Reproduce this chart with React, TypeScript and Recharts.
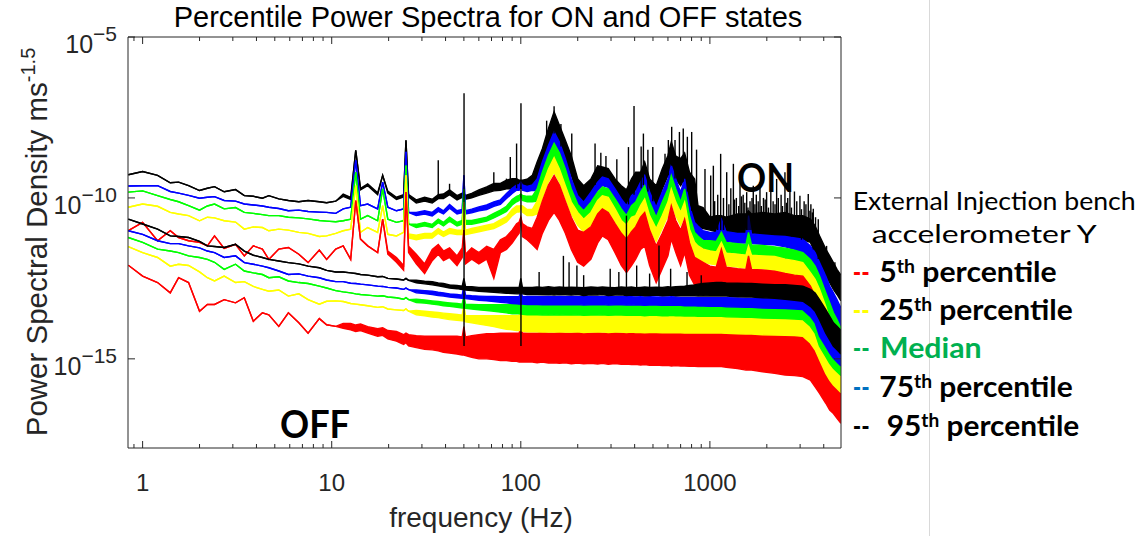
import React from 'react';
import { ComposedChart, Area, Bar, XAxis, YAxis } from 'recharts';

type V = number | [number, number];

// Frequency grid (Hz)
const FREQ: number[] = [
  0.84, 1.0, 1.2, 1.4, 1.55, 1.75, 2.0, 2.2, 2.4, 2.7, 3.1, 3.45, 3.85, 4.3, 4.65, 5.25, 5.9, 6.7, 7.5, 8.6, 9.4, 10.5,
  11.5, 12.6, 13.4, 14.2, 15.5, 17.5, 18.6, 19.8, 22, 24, 24.7, 25.5, 28, 31, 34, 36.6, 39, 42, 46, 49, 50, 51, 55, 60, 66, 72, 78, 84, 90, 95, 98, 100, 102, 108, 115,
  122, 130, 140, 150, 160, 172, 185, 200, 215, 235, 255, 270, 290, 315, 340, 362, 385, 405, 430, 452, 480, 520, 560, 600, 625, 660, 700, 735, 780, 830, 865, 920, 1000, 1080,
  1150, 1220, 1400, 1550, 1600, 1660, 1900, 2200, 2500, 2800, 3100, 3400, 3600, 3800, 4100, 4300, 4500, 4700, 4930,
];

// log10 PSD; a single number = thin line, [low, high] = envelope of the dense trace
const ON_P95: V[] = [
  -9.28, -9.18, -9.3, -9.53, -9.51, -9.62, -9.77, -9.7, -9.65, -9.81, -9.74, -9.93, -9.95, -10.01, -9.93, -10.03, -10.08, -10.12, -10.08, -10.12, -10.15, -10.1,
  [-9.95, -9.88], [-10.05, -9.98], -8.52, [-9.75, -9.7], [-9.62, -9.56], [-9.9, -9.84], -9.3, [-9.85, -9.79], [-10.05, -9.98], [-9.97, -9.9], -8.21, [-9.97, -9.9],
  [-10.16, -10.06], [-10.1, -9.98], [-10.16, -10.04], [-10.02, -9.9], [-10.02, -9.88], [-9.9, -9.75], [-10.06, -9.93], [-9.98, -9.85], [-9.98, -9.85], [-10.04, -9.92],
  [-10.0, -9.86], [-9.92, -9.75], [-9.85, -9.66], [-9.78, -9.55], [-9.76, -9.55], [-9.72, -9.45], [-9.72, -9.4], [-9.7, -9.4], [-9.7, -9.45], [-9.7, -9.45], [-9.7, -9.45],
  [-9.72, -9.42], [-9.62, -9.3],
  [-9.41, -8.88], [-9.09, -8.47], [-8.57, -7.84], [-8.0, -7.32], [-8.37, -7.74], [-8.78, -8.21], [-9.3, -8.7], [-9.93, -9.41], [-10.19, -9.62], [-9.93, -9.41],
  [-9.51, -9.0], [-9.41, -9.04], [-9.51, -9.09], [-9.88, -9.41], [-10.24, -9.62], [-10.34, -9.75], [-10.13, -9.41], [-9.72, -9.2], [-9.82, -9.2], [-9.51, -8.88],
  [-10.03, -9.41], [-10.29, -9.62], [-9.72, -9.09], [-9.3, -8.68], [-8.99, -8.26], [-9.41, -8.7], [-9.62, -8.78], [-9.41, -8.6], [-10.24, -9.2], [-10.76, -9.41],
  [-10.9, -10.24], [-10.95, -10.3], [-11.0, -10.6], [-11.05, -10.55],
  [-11.07, -10.55], [-11.07, -10.6], [-11.1, -10.5], [-11.1, -10.5], [-11.0, -10.4], [-11.1, -10.5], [-11.15, -10.45], [-11.2, -10.5], [-11.2, -10.45], [-11.25, -10.55],
  [-11.3, -10.55], [-11.38, -10.66], [-11.7, -10.87], [-12.01, -11.18], [-12.43, -11.59], [-12.63, -11.8], [-12.84, -12.01], [-13.0, -12.22], [-13.2, -12.4],
];

const ON_P75: V[] = [
  -9.63, -9.62, -9.62, -9.8, -9.85, -9.92, -10.01, -9.98, -9.96, -10.08, -10.1, -10.19, -10.22, -10.25, -10.29, -10.33, -10.4, -10.38, -10.42, -10.44, -10.45, -10.48,
  -10.34, -10.29, -8.83, -10.24, -10.19, -10.34, -9.51, -10.29, -10.4, -10.34, -8.57, -10.45,
  [-10.55, -10.45], [-10.5, -10.4], [-10.56, -10.45], [-10.42, -10.3], [-10.5, -10.4], [-10.32, -10.2], [-10.5, -10.4], [-10.46, -10.36], -9.3, [-10.5, -10.4],
  [-10.46, -10.35], [-10.4, -10.28], [-10.36, -10.22], [-10.26, -10.12], [-10.2, -10.06], [-10.02, -9.86], [-9.86, -9.7], [-9.76, -9.6], [-9.76, -9.6], -9.51, [-9.76, -9.6],
  [-9.8, -9.64], [-9.76, -9.6],
  [-9.77, -9.41], [-9.3, -8.88], [-8.78, -8.37], [-8.37, -7.95], [-8.78, -8.26], [-9.3, -8.78], [-9.82, -9.41], [-10.19, -9.93], [-10.4, -10.13], [-10.13, -9.82],
  [-9.77, -9.51], [-9.62, -9.35], [-9.67, -9.41], [-10.03, -9.72], [-10.4, -10.03], [-10.55, -10.24], [-10.34, -9.93], [-10.24, -9.82], [-9.93, -9.51], [-9.72, -9.3],
  [-10.24, -9.82], [-10.66, -10.29], [-10.24, -9.82], [-9.82, -9.41], [-9.41, -8.99], [-9.82, -9.41], [-10.13, -9.82], [-9.82, -9.41], [-10.66, -10.24], [-11.07, -10.76],
  [-11.18, -10.87], [-11.28, -11.02], [-11.33, -11.07], [-11.38, -11.07],
  [-11.3, -10.66], [-11.35, -11.05], [-11.4, -11.1], [-11.4, -11.1], [-11.3, -10.55], [-11.42, -11.12], [-11.44, -11.15], [-11.46, -11.18], [-11.52, -11.2], [-11.6, -11.24],
  [-11.7, -11.28], [-12.0, -11.49], [-12.32, -11.7], [-12.63, -12.01], [-13.16, -12.43], [-13.47, -12.74], [-13.78, -12.95], [-13.99, -13.16], [-14.25, -13.42],
];

const ON_P50: V[] = [
  -9.82, -9.78, -9.93, -10.05, -10.12, -10.24, -10.38, -10.25, -10.19, -10.34, -10.3, -10.45, -10.48, -10.52, -10.55, -10.55, -10.6, -10.62, -10.65, -10.7, -10.72, -10.74,
  -10.71, -10.66, -9.2, -10.66, -10.55, -10.71, -9.72, -10.66, -10.76, -10.71, -8.99, -10.81,
  [-10.92, -10.82], [-10.87, -10.76], [-10.92, -10.82], [-10.77, -10.66], [-10.87, -10.76], [-10.72, -10.6], [-10.87, -10.76], [-10.82, -10.7], -9.72, [-10.82, -10.7],
  [-10.82, -10.7], [-10.77, -10.65], [-10.72, -10.6], [-10.62, -10.48], [-10.52, -10.38], [-10.42, -10.26], [-10.22, -10.05], [-10.12, -9.95], [-10.08, -9.92], -9.88,
  [-10.08, -9.92], [-10.12, -9.95], [-10.12, -9.95],
  [-10.1, -9.72], [-9.62, -9.2], [-9.1, -8.68], [-8.75, -8.3], [-9.1, -8.6], [-9.62, -9.1], [-10.13, -9.72], [-10.45, -10.2], [-10.66, -10.4], [-10.45, -10.13],
  [-10.08, -9.82], [-9.93, -9.66], [-9.98, -9.72], [-10.34, -10.03], [-10.7, -10.34], [-10.85, -10.55], [-10.6, -10.24], [-10.55, -10.13], [-10.24, -9.82], [-10.03, -9.62],
  [-10.55, -10.13], [-10.95, -10.6], [-10.55, -10.13], [-10.13, -9.72], [-9.72, -9.3], [-10.13, -9.72], [-10.45, -10.13], [-10.13, -9.72], [-10.97, -10.55], [-11.38, -11.07],
  [-11.49, -11.18], [-11.59, -11.33], [-11.62, -11.33], [-11.65, -11.35],
  [-11.6, -11.07], [-11.68, -11.38], [-11.72, -11.42], [-11.75, -11.45], [-11.65, -11.07], [-11.76, -11.46], [-11.78, -11.48], [-11.82, -11.52], [-11.9, -11.56], [-12.0, -11.62],
  [-12.12, -11.7], [-12.43, -11.91], [-12.74, -12.12], [-13.05, -12.43], [-13.68, -12.95], [-13.99, -13.26], [-14.3, -13.57], [-14.51, -13.78], [-14.78, -14.05],
];

const ON_P25: V[] = [
  -10.29, -10.19, -10.26, -10.45, -10.5, -10.55, -10.71, -10.6, -10.62, -10.71, -10.75, -10.97, -10.9, -10.92, -11.02, -10.97, -11.0, -11.07, -11.1, -11.2, -11.18, -11.1,
  -11.02, -10.97, -9.62, -11.07, -10.92, -11.07, -10.24, -11.13, -11.18, -11.07, -9.3,
  [-11.24, -11.12], [-11.3, -11.16], [-11.25, -11.1], [-11.25, -11.1], [-11.1, -10.95], [-11.2, -11.06], [-11.1, -10.95], [-11.14, -11.0], [-11.14, -11.0], -10.13,
  [-11.14, -11.0], [-11.1, -10.95], [-11.05, -10.9], [-11.0, -10.85], [-10.95, -10.8], [-10.85, -10.68], [-10.75, -10.58], [-10.55, -10.36], [-10.44, -10.25], [-10.44, -10.25],
  -10.24, [-10.44, -10.25], [-10.55, -10.36], [-10.55, -10.36],
  [-10.5, -10.1], [-10.0, -9.62], [-9.5, -9.1], [-9.2, -8.75], [-9.5, -9.1], [-10.0, -9.62], [-10.5, -10.13], [-10.85, -10.45], [-11.05, -10.66], [-10.85, -10.45],
  [-10.45, -10.08], [-10.34, -9.93], [-10.4, -9.98], [-10.75, -10.34], [-11.1, -10.7], [-11.25, -10.85], [-11.0, -10.6], [-10.95, -10.55], [-10.65, -10.24], [-10.45, -10.03],
  [-10.95, -10.55], [-11.35, -10.95], [-10.95, -10.55], [-10.55, -10.13], [-10.13, -9.72], [-10.55, -10.13], [-10.85, -10.45], [-10.55, -10.13], [-11.38, -10.97], [-11.8, -11.38],
  [-11.9, -11.49], [-11.98, -11.59], [-12.05, -11.65], [-12.08, -11.68],
  [-12.05, -11.38], [-12.1, -11.72], [-12.15, -11.75], [-12.18, -11.78], [-12.1, -11.49], [-12.18, -11.78], [-12.2, -11.8], [-12.25, -11.82], [-12.35, -11.9], [-12.45, -11.95],
  [-12.53, -12.01], [-12.84, -12.32], [-13.16, -12.53], [-13.47, -12.84], [-14.2, -13.37], [-14.61, -13.78], [-15.03, -14.2], [-15.24, -14.41], [-15.5, -14.67],
];

const ON_P5: V[] = [
  -11.02, -10.76, -11.33, -11.02, -11.23, -11.33, -11.38, -11.49, -11.18, -11.57, -11.44, -11.8, -11.49, -11.59, -11.91, -11.59, -11.54, -11.75, -12.01, -11.62, -11.91, -11.59,
  -11.49, -11.91, -10.08, -11.28, -11.49, -11.7, -10.66, [-11.75, -11.65], [-12.0, -11.85], [-12.25, -12.1], -9.82,
  [-11.7, -11.5], [-12.05, -11.75], [-12.35, -12.05], [-11.95, -11.6], [-11.75, -11.45], [-11.95, -11.65], [-11.85, -11.55], [-12.1, -11.8], [-11.85, -11.55], -11.0,
  [-12.05, -11.75], [-11.9, -11.55], [-12.05, -11.7], [-11.9, -11.5], [-12.5, -11.6], [-11.7, -11.3], [-11.6, -11.2], [-11.4, -11.0], [-11.2, -10.8], [-11.1, -10.75],
  -10.6, [-11.2, -10.8], [-11.3, -10.9], [-11.45, -10.95],
  [-11.6, -10.6], [-11.1, -10.1], [-10.7, -9.6], [-10.45, -9.3], [-10.7, -9.6], [-11.1, -10.1], [-11.6, -10.6], [-12.0, -11.0], [-12.12, -11.07], [-11.9, -10.9],
  [-11.4, -10.5], [-11.18, -10.34], [-11.3, -10.45], [-11.7, -10.8], [-12.1, -11.1], [-12.32, -11.28], [-12.1, -11.05], [-11.9, -10.9], [-11.6, -10.6], [-11.49, -10.45],
  [-12.1, -11.0], [-12.63, -11.49], [-12.2, -11.1], [-11.8, -10.7], [-11.28, -10.24], [-11.7, -10.7], [-12.1, -11.0], [-11.7, -10.66], [-12.4, -11.4], [-12.7, -11.85],
  [-12.74, -11.91], [-12.74, -12.0], [-12.7, -12.12], [-12.72, -12.15],
  [-12.63, -11.59], [-12.7, -12.15], [-12.72, -12.2], [-12.74, -12.22], [-12.7, -11.8], [-12.75, -12.22], [-12.76, -12.24], [-12.8, -12.28], [-12.85, -12.35], [-12.9, -12.4],
  [-12.95, -12.43], [-13.37, -12.74], [-13.78, -13.05], [-14.2, -13.37], [-15.03, -13.99], [-15.55, -14.51], [-15.97, -14.93], [-16.38, -15.24], [-16.95, -15.6],
];

const OFF_P95: V[] = [
  -10.66, -10.81, -10.97, -11.18, -11.2, -11.23, -11.35, -11.49, -11.51, -11.54, -11.44, -11.65, -11.78, -11.85, -11.91, -11.96, -12.01, -12.05, -12.12, -12.17, -12.25, -12.3,
  -12.3, -12.33, -12.35, -12.38, -12.4, -12.45, -12.44, -12.5, -12.52, -12.55, -12.5, -12.56,
  [-12.64, -12.56], [-12.67, -12.59], [-12.7, -12.6], [-12.73, -12.64], [-12.76, -12.66], [-12.8, -12.7], [-12.82, -12.72], [-12.85, -12.74], [-12.85, -12.5], [-12.86, -12.75],
  [-12.88, -12.76], [-12.9, -12.78], [-12.92, -12.78], [-12.93, -12.78], [-12.95, -12.78], [-12.96, -12.78], [-12.97, -12.78], [-12.98, -12.78], [-12.98, -12.78], [-12.98, -12.5],
  [-12.98, -12.78], [-13.0, -12.78], [-13.0, -12.78],
  [-13.0, -12.77], [-13.01, -12.78], [-13.0, -12.76], [-13.02, -12.78], [-13.0, -12.77], [-13.01, -12.78], [-13.02, -12.77], [-13.0, -12.78], [-13.03, -12.79], [-13.01, -12.77],
  [-13.02, -12.78], [-13.0, -12.77], [-13.03, -12.78], [-13.02, -12.79], [-13.01, -12.77], [-13.03, -12.78], [-13.02, -12.77], [-13.03, -12.79], [-13.02, -12.78], [-13.04, -12.77],
  [-13.03, -12.78], [-13.02, -12.77], [-13.04, -12.78], [-13.03, -12.76], [-13.02, -12.77], [-13.04, -12.76], [-13.03, -12.75], [-13.04, -12.74], [-13.03, -12.72], [-13.04, -12.7],
  [-13.05, -12.68], [-13.04, -12.66], [-13.05, -12.64], [-13.05, -12.63],
  [-13.05, -12.63], [-13.05, -12.64], [-13.07, -12.65], [-13.08, -12.66], [-13.08, -12.66], [-13.08, -12.66], [-13.1, -12.68], [-13.12, -12.7], [-13.15, -12.7], [-13.18, -12.72],
  [-13.21, -12.74], [-13.37, -12.84], [-13.52, -12.95], [-13.78, -13.16], [-14.2, -13.47], [-14.41, -13.68], [-14.61, -13.88], [-14.72, -13.99], [-14.85, -14.12],
];

const OFF_P75: V[] = [
  -11.02, -11.13, -11.33, -11.42, -11.42, -11.49, -11.55, -11.65, -11.7, -11.85, -11.8, -12.01, -12.06, -12.12, -12.17, -12.27, -12.38, -12.36, -12.43, -12.48, -12.55, -12.6,
  -12.6, -12.65, -12.66, -12.68, -12.7, -12.74, -12.75, -12.78, -12.8, -12.84, -12.8, -12.85,
  [-12.95, -12.86], [-12.97, -12.88], [-13.0, -12.9], [-13.03, -12.93], [-13.05, -12.95], [-13.08, -12.98], [-13.1, -13.0], [-13.12, -13.02], [-13.12, -12.7], [-13.13, -13.02],
  [-13.15, -13.04], [-13.18, -13.05], [-13.2, -13.06], [-13.22, -13.06], [-13.24, -13.07], [-13.26, -13.07], [-13.28, -13.07], [-13.29, -13.07], [-13.3, -13.07], [-13.3, -12.9],
  [-13.3, -13.07], [-13.31, -13.06], [-13.31, -13.06],
  [-13.31, -13.06], [-13.32, -13.07], [-13.31, -13.06], [-13.32, -13.07], [-13.31, -13.06], [-13.32, -13.07], [-13.32, -13.06], [-13.31, -13.07], [-13.33, -13.07], [-13.32, -13.06],
  [-13.32, -13.07], [-13.31, -13.06], [-13.33, -13.07], [-13.32, -13.07], [-13.32, -13.06], [-13.33, -13.07], [-13.32, -13.07], [-13.33, -13.08], [-13.33, -13.07], [-13.34, -13.08],
  [-13.33, -13.07], [-13.33, -13.08], [-13.34, -13.08], [-13.34, -13.08], [-13.33, -13.07], [-13.34, -13.08], [-13.34, -13.09], [-13.35, -13.09], [-13.35, -13.09], [-13.35, -13.09],
  [-13.36, -13.1], [-13.36, -13.1], [-13.37, -13.1], [-13.37, -13.1],
  [-13.37, -13.1], [-13.38, -13.1], [-13.39, -13.11], [-13.4, -13.12], [-13.4, -13.12], [-13.4, -13.12], [-13.42, -13.13], [-13.43, -13.14], [-13.44, -13.14], [-13.45, -13.15],
  [-13.47, -13.16], [-13.68, -13.31], [-13.88, -13.47], [-14.3, -13.68], [-14.61, -13.99], [-14.82, -14.2], [-14.98, -14.35], [-15.1, -14.45], [-15.22, -14.58],
];

const OFF_P50: V[] = [
  -11.23, -11.38, -11.59, -11.65, -11.7, -11.8, -11.85, -11.91, -12.0, -12.22, -12.06, -12.27, -12.33, -12.38, -12.48, -12.45, -12.58, -12.63, -12.66, -12.74, -12.8, -12.88,
  -12.92, -12.95, -12.98, -13.0, -13.02, -13.05, -13.04, -13.08, -13.1, -13.15, -13.1, -13.16,
  [-13.25, -13.15], [-13.27, -13.17], [-13.3, -13.2], [-13.32, -13.22], [-13.35, -13.24], [-13.37, -13.26], [-13.4, -13.28], [-13.42, -13.3], [-13.42, -13.0], [-13.43, -13.3],
  [-13.45, -13.31], [-13.48, -13.32], [-13.5, -13.32], [-13.52, -13.32], [-13.55, -13.32], [-13.57, -13.32], [-13.6, -13.32], [-13.6, -13.32], [-13.6, -13.32], [-13.6, -13.1],
  [-13.62, -13.32], [-13.63, -13.33], [-13.63, -13.33],
  [-13.63, -13.33], [-13.64, -13.34], [-13.63, -13.33], [-13.64, -13.34], [-13.63, -13.33], [-13.64, -13.34], [-13.64, -13.33], [-13.63, -13.34], [-13.65, -13.34], [-13.64, -13.33],
  [-13.64, -13.34], [-13.63, -13.33], [-13.65, -13.34], [-13.64, -13.34], [-13.64, -13.33], [-13.65, -13.34], [-13.64, -13.34], [-13.65, -13.35], [-13.65, -13.34], [-13.66, -13.35],
  [-13.65, -13.34], [-13.65, -13.35], [-13.66, -13.35], [-13.66, -13.35], [-13.65, -13.34], [-13.66, -13.35], [-13.66, -13.36], [-13.67, -13.36], [-13.67, -13.36], [-13.67, -13.36],
  [-13.68, -13.37], [-13.68, -13.37], [-13.68, -13.37], [-13.68, -13.37],
  [-13.68, -13.37], [-13.69, -13.38], [-13.7, -13.39], [-13.71, -13.4], [-13.71, -13.4], [-13.71, -13.4], [-13.73, -13.42], [-13.74, -13.43], [-13.75, -13.44], [-13.76, -13.45],
  [-13.78, -13.47], [-13.99, -13.63], [-14.2, -13.78], [-14.61, -13.99], [-14.93, -14.3], [-15.14, -14.51], [-15.29, -14.67], [-15.4, -14.77], [-15.52, -14.9],
];

const OFF_P25: V[] = [
  -11.51, -11.7, -11.85, -12.12, -12.06, -12.1, -12.3, -12.48, -12.58, -12.43, -12.63, -12.6, -12.75, -12.84, -12.9, -12.86, -13.05, -12.98, -13.16, -13.3, -13.21, -13.2,
  -13.22, -13.28, -13.3, -13.32, -13.35, -13.4, -13.38, -13.45, -13.48, -13.5, -13.45, -13.52,
  [-13.63, -13.5], [-13.66, -13.52], [-13.7, -13.54], [-13.72, -13.56], [-13.75, -13.58], [-13.78, -13.6], [-13.8, -13.62], [-13.82, -13.64], [-13.82, -13.3], [-13.85, -13.65],
  [-13.88, -13.66], [-13.92, -13.66], [-13.96, -13.66], [-14.0, -13.66], [-14.04, -13.66], [-14.08, -13.66], [-14.1, -13.66], [-14.12, -13.66], [-14.12, -13.66], [-14.12, -13.4],
  [-14.14, -13.66], [-14.16, -13.66], [-14.16, -13.66],
  [-14.16, -13.66], [-14.17, -13.67], [-14.16, -13.66], [-14.17, -13.67], [-14.16, -13.66], [-14.17, -13.67], [-14.17, -13.66], [-14.16, -13.67], [-14.18, -13.67], [-14.17, -13.66],
  [-14.17, -13.67], [-14.16, -13.66], [-14.18, -13.67], [-14.17, -13.67], [-14.17, -13.66], [-14.18, -13.67], [-14.17, -13.67], [-14.18, -13.68], [-14.18, -13.67], [-14.19, -13.68],
  [-14.18, -13.67], [-14.18, -13.68], [-14.19, -13.68], [-14.19, -13.68], [-14.18, -13.67], [-14.19, -13.68], [-14.19, -13.68], [-14.2, -13.68], [-14.2, -13.68], [-14.2, -13.68],
  [-14.2, -13.68], [-14.2, -13.68], [-14.2, -13.68], [-14.2, -13.68],
  [-14.2, -13.68], [-14.21, -13.69], [-14.22, -13.7], [-14.23, -13.71], [-14.23, -13.71], [-14.23, -13.71], [-14.25, -13.73], [-14.26, -13.74], [-14.27, -13.75], [-14.28, -13.76],
  [-14.3, -13.78], [-14.51, -13.94], [-14.72, -14.09], [-15.03, -14.3], [-15.45, -14.72], [-15.66, -14.93], [-15.81, -15.08], [-15.92, -15.19], [-16.05, -15.32],
];

const OFF_P5: V[] = [
  -12.09, -12.43, -12.63, -12.95, -12.48, -12.63, -13.52, -13.31, -13.31, -13.16, -13.26, -13.1, -13.83, -13.57, -13.63, -13.99, -13.57, -13.88, -14.2, -13.75, -13.94, -13.99,
  [-14.05, -13.9], [-14.1, -13.9], [-14.15, -13.95], [-14.12, -13.92], [-14.2, -14.0], [-14.3, -14.06], [-14.27, -14.03], [-14.38, -14.12], [-14.45, -14.15], [-14.55, -14.25],
  [-14.5, -14.2], [-14.6, -14.25], [-14.65, -14.28], [-14.7, -14.3], [-14.72, -14.3], [-14.75, -14.3], [-14.8, -14.3], [-14.82, -14.3], [-14.85, -14.3], [-14.88, -14.32],
  [-14.88, -14.0], [-14.9, -14.32], [-14.95, -14.28], [-15.0, -14.25], [-15.0, -14.22], [-15.02, -14.22], [-15.05, -14.2], [-15.05, -14.2], [-15.08, -14.2], [-15.08, -14.2],
  [-15.1, -14.2], [-15.1, -14.0], [-15.1, -14.2], [-15.1, -14.2], [-15.1, -14.2],
  [-15.12, -14.2], [-15.1, -14.19], [-15.13, -14.2], [-15.12, -14.2], [-15.14, -14.19], [-15.12, -14.2], [-15.15, -14.2], [-15.13, -14.19], [-15.15, -14.2], [-15.14, -14.2],
  [-15.16, -14.19], [-15.14, -14.2], [-15.17, -14.2], [-15.15, -14.19], [-15.17, -14.2], [-15.16, -14.2], [-15.18, -14.19], [-15.17, -14.2], [-15.19, -14.2], [-15.18, -14.19],
  [-15.2, -14.2], [-15.19, -14.2], [-15.21, -14.19], [-15.2, -14.2], [-15.22, -14.2], [-15.21, -14.19], [-15.22, -14.2], [-15.22, -14.2], [-15.23, -14.2], [-15.23, -14.2],
  [-15.24, -14.2], [-15.24, -14.2], [-15.24, -14.2], [-15.24, -14.2],
  [-15.24, -14.2], [-15.26, -14.2], [-15.3, -14.22], [-15.35, -14.22], [-15.35, -14.22], [-15.35, -14.22], [-15.4, -14.24], [-15.45, -14.25], [-15.5, -14.27], [-15.52, -14.28],
  [-15.55, -14.3], [-15.66, -14.41], [-15.87, -14.61], [-16.07, -14.82], [-16.38, -15.24], [-16.59, -15.55], [-16.7, -15.76], [-16.85, -15.87], [-17.0, -16.05],
];

// narrow black line spikes (Hz, log10 bottom, log10 top)
const SPIKE_F: number[] = [
  36.6, 42, 50.1, 72, 84, 88, 95, 100.2, 150, 168, 186, 198, 247, 297, 362, 371, 397, 445, 499, 538, 579, 628, 654, 723, 801,
  942, 1043, 1100, 1140, 1227, 1290, 1331, 1380, 1443, 1500, 1565, 1630, 1696, 1760, 1840, 1920, 1995, 2100, 2254, 2380, 2494,
  2580, 2650, 2800, 2993, 3150, 3313, 3420, 3522, 3742, 4141, 4582,
  137, 163, 265, 282, 322, 433, 470, 603, 690, 760, 850, 1010,
  1060, 1180, 1260, 1350, 1420, 1470, 1530, 1590, 1670, 1730, 1800, 1870, 1960, 2040, 2160, 2210, 2300, 2420, 2540, 2700, 2880, 3050, 3220, 3380, 3480, 3620,
  125, 180, 215, 330, 410, 480, 620, 757, 900,
];
const SPIKE_LO: number[] = [
  -10.0, -9.9, -14.6, -9.75, -9.7, -9.7, -9.7, -14.6, -8.0, -13.0, -9.3, -13.0, -9.6, -13.0, -13.0, -10.2, -9.9, -9.6, -10.1, -13.0, -9.5, -9.0, -9.4, -9.5, -10.4,
  -10.9, -11.0, -11.0, -11.0, -11.0, -11.0, -11.0, -11.0, -11.0, -11.0, -11.0, -11.0, -11.0, -11.0, -11.0, -11.0, -11.0, -11.0, -11.1, -11.1, -11.1,
  -11.1, -11.1, -11.2, -11.2, -11.3, -11.3, -11.4, -11.6, -11.9, -12.4, -12.9,
  -8.2, -8.4, -9.2, -9.2, -9.6, -9.7, -9.8, -9.3, -9.5, -9.8, -10.6, -11.0,
  -11.0, -11.0, -11.0, -11.0, -11.0, -11.0, -11.0, -11.0, -11.0, -11.0, -11.0, -11.0, -11.0, -11.1, -11.1, -11.1, -11.1, -11.1, -11.1, -11.2, -11.2, -11.3, -11.3, -11.3, -11.4, -11.6,
  -13.0, -13.0, -13.0, -13.0, -13.0, -13.0, -13.0, -13.0, -13.0,
];
const SPIKE_HI: number[] = [
  -8.83, -9.56, -6.75, -9.2, -9.4, -8.73, -8.31, -7.06, -7.15, -11.8, -8.0, -12.1, -8.31, -12.2, -10.55, -8.42, -7.14, -8.0, -8.42, -11.48, -8.63, -7.79, -8.2, -7.84, -7.95,
  -9.1, -9.0, -9.9, -8.63, -9.2, -9.7, -8.94, -10.0, -9.41, -9.9, -9.82, -10.1, -9.62, -9.9, -9.51, -10.0, -9.82, -9.8, -9.41, -9.9, -9.2,
  -10.0, -9.62, -9.8, -9.93, -10.1, -9.88, -10.2, -10.34, -10.66, -11.49, -12.0,
  -7.6, -7.7, -8.6, -8.7, -8.8, -8.4, -8.5, -8.2, -7.95, -8.1, -8.5, -9.3,
  -10.1, -10.0, -10.2, -10.05, -10.25, -9.95, -10.15, -10.3, -10.0, -10.2, -10.1, -10.25, -10.05, -10.3, -10.1, -10.2, -10.0, -10.25, -10.15, -10.3, -10.1, -10.35, -10.2, -10.4, -10.45, -10.6,
  -12.3, -12.0, -12.4, -12.3, -12.1, -12.35, -12.2, -12.3, -12.4,
];

const X_TICKS = [0.9, 1, 2, 3, 4, 5, 6, 7, 8, 9, 10, 20, 30, 40, 50, 60, 70, 80, 90, 100, 200, 300, 400, 500, 600, 700, 800, 900, 1000, 2000, 3000, 4000];
const X_MAJOR = [1, 10, 100, 1000];
const Y_TICKS = [1e-15, 1e-10, 1e-5];
const Y_TICK_EXP = ['\u221215', '\u221210', '\u22125'];

const X_DOMAIN: [number, number] = [0.837, 4935];
const Y_DOMAIN: [number, number] = [Math.pow(10, -17.77), 1e-5];

const SERIES = [
  { key: 'on95', values: ON_P95, color: '#000000' },
  { key: 'on75', values: ON_P75, color: '#0000ff' },
  { key: 'on50', values: ON_P50, color: '#00ff00' },
  { key: 'on25', values: ON_P25, color: '#ffff00' },
  { key: 'on5', values: ON_P5, color: '#ff0000' },
  { key: 'off5', values: OFF_P5, color: '#ff0000' },
  { key: 'off25', values: OFF_P25, color: '#ffff00' },
  { key: 'off50', values: OFF_P50, color: '#00ff00' },
  { key: 'off75', values: OFF_P75, color: '#0000ff' },
  { key: 'off95', values: OFF_P95, color: '#000000' },
];

const toRange = (v: V): [number, number] =>
  Array.isArray(v) ? [Math.pow(10, v[0]), Math.pow(10, v[1])] : [Math.pow(10, v), Math.pow(10, v)];

const gridRows = FREQ.map((f, i) => {
  const row: Record<string, any> = { f };
  SERIES.forEach((s) => {
    row[s.key] = toRange(s.values[i]);
  });
  return row;
});
const spikeRows = SPIKE_F.map((f, i) => ({ f, spike: [Math.pow(10, SPIKE_LO[i]), Math.pow(10, SPIKE_HI[i])] }));
const DATA = [...gridRows, ...spikeRows].sort((a, b) => a.f - b.f);

// layout
const W = 1147;
const H = 536;
const P_LEFT = 128;
const P_TOP = 37;
const P_RIGHT = 841;
const P_BOTTOM = 448;
const AXIS = '#262626';
const SANS = '"Liberation Sans", Arial, Helvetica, sans-serif';
const LEG = 'Lato, "Open Sans", sans-serif';

const XTick = (props: any) => {
  const { x, y, payload } = props;
  const v = payload.value;
  const major = X_MAJOR.includes(v);
  const len = major ? 7 : 4;
  return (
    <g>
      <line x1={x} x2={x} y1={y} y2={y - len} stroke={AXIS} strokeWidth={1} />
      <line x1={x} x2={x} y1={P_TOP} y2={P_TOP + len} stroke={AXIS} strokeWidth={1} />
      {major && (
        <text x={x} y={y + 43} textAnchor="middle" fontFamily={SANS} fontSize={24} fill={AXIS}>
          {String(v)}
        </text>
      )}
    </g>
  );
};

const YTick = (props: any) => {
  const { y, payload, index } = props;
  const i = Y_TICKS.indexOf(payload.value);
  const exp = Y_TICK_EXP[i >= 0 ? i : index];
  return (
    <g>
      <line x1={P_LEFT} x2={P_LEFT + 7} y1={y} y2={y} stroke={AXIS} strokeWidth={1} />
      <line x1={P_RIGHT} x2={P_RIGHT - 7} y1={y} y2={y} stroke={AXIS} strokeWidth={1} />
      <text x={117} y={y + 16} textAnchor="end" fontFamily={SANS} fontSize={25} fill={AXIS}>
        <tspan>10</tspan>
        <tspan dy={-12} fontSize={21}>{exp}</tspan>
      </text>
    </g>
  );
};

const SpikeShape = (p: any) => {
  const { x, y, width, height } = p;
  if (x == null || y == null || !isFinite(x) || !isFinite(y) || !isFinite(height)) return <g />;
  const cx = x + (isFinite(width) ? width : 0) / 2;
  return <line x1={cx} x2={cx} y1={y} y2={y + height} stroke="#000000" strokeWidth={1.4} />;
};

const LEGEND = [
  { dash: '#ff0000', main: '5', sup: 'th', rest: ' percentile', color: '#000000', x: 879.3, y: 281.7, w: 177.4 },
  { dash: '#ffff00', main: '25', sup: 'th', rest: ' percentile', color: '#000000', x: 879.3, y: 320, w: 193.4 },
  { dash: '#00b050', main: 'Median', sup: '', rest: '', color: '#00b050', x: 880, y: 358.3, w: 101.7 },
  { dash: '#0070c0', main: '75', sup: 'th', rest: ' percentile', color: '#000000', x: 879.3, y: 397.3, w: 193.4 },
  { dash: '#000000', main: '95', sup: 'th', rest: ' percentile', color: '#000000', x: 886.7, y: 436, w: 192.6 },
];

export default function App() {
  return (
    <div style={{ position: 'absolute', left: 0, top: 0, width: W, height: H, background: '#ffffff' }}>
      <ComposedChart
        width={W}
        height={H}
        data={DATA}
        margin={{ top: P_TOP, right: W - P_RIGHT, bottom: 0, left: 0 }}
      >
        <XAxis
          dataKey="f"
          type="number"
          scale="log"
          domain={X_DOMAIN}
          allowDataOverflow
          ticks={X_TICKS}
          interval={0}
          height={H - P_BOTTOM}
          tickSize={0}
          tickMargin={0}
          tickLine={false}
          axisLine={{ stroke: AXIS, strokeWidth: 1 }}
          tick={(p: any) => <XTick {...p} />}
        />
        <YAxis
          type="number"
          scale="log"
          domain={Y_DOMAIN}
          allowDataOverflow
          ticks={Y_TICKS}
          interval={0}
          width={P_LEFT}
          tickSize={0}
          tickMargin={0}
          tickLine={false}
          axisLine={{ stroke: AXIS, strokeWidth: 1 }}
          tick={(p: any) => <YTick {...p} />}
        />
        {SERIES.map((s) => (
          <Area
            key={s.key}
            type="linear"
            dataKey={s.key}
            stroke={s.color}
            strokeWidth={1.4}
            fill={s.color}
            fillOpacity={1}
            connectNulls
            dot={false}
            activeDot={false}
            isAnimationActive={false}
          />
        ))}
        <Bar dataKey="spike" fill="#000000" barSize={2} shape={(p: any) => <SpikeShape {...p} />} isAnimationActive={false} />
      </ComposedChart>

      <svg width={W} height={H} style={{ position: 'absolute', left: 0, top: 0, pointerEvents: 'none' }}>
        <line x1={929.5} x2={929.5} y1={0} y2={H} stroke="#d9d9d9" strokeWidth={1} />
        <line x1={P_LEFT} x2={P_RIGHT} y1={P_TOP} y2={P_TOP} stroke={AXIS} strokeWidth={1} />
        <line x1={P_RIGHT} x2={P_RIGHT} y1={P_TOP} y2={P_BOTTOM} stroke={AXIS} strokeWidth={1} />

        <text x={488} y={27} textAnchor="middle" fontFamily={SANS} fontSize={29} fill="#000000">
          Percentile Power Spectra for ON and OFF states
        </text>
        <text x={481} y={527} textAnchor="middle" fontFamily={SANS} fontSize={28} fill={AXIS}>
          frequency (Hz)
        </text>
        <text transform="translate(47, 242) rotate(-90)" textAnchor="middle" fontFamily={SANS} fontSize={29.5} fill={AXIS}>
          <tspan>Power Spectral Density ms</tspan>
          <tspan dy={-12} fontSize={20}>-1.5</tspan>
        </text>

        <text x={737} y={192} fontFamily={LEG} fontWeight={700} fontSize={40} textLength={57} lengthAdjust="spacingAndGlyphs" fill="#000000">
          ON
        </text>
        <text x={280} y={438} fontFamily={LEG} fontWeight={700} fontSize={39} textLength={70} lengthAdjust="spacingAndGlyphs" fill="#000000">
          OFF
        </text>

        <text x={852.7} y={210} fontFamily={LEG} fontSize={25} textLength={283} lengthAdjust="spacingAndGlyphs" fill="#000000">
          External Injection bench
        </text>
        <text x={871.7} y={243.3} fontFamily={LEG} fontSize={25} textLength={225} lengthAdjust="spacingAndGlyphs" fill="#000000">
          accelerometer Y
        </text>
        {LEGEND.map((l, i) => (
          <g key={i}>
            <text x={852.7} y={l.y} fontFamily={LEG} fontWeight={700} fontSize={28} textLength={17} lengthAdjust="spacingAndGlyphs" fill={l.dash}>
              --
            </text>
            <text
              x={l.x}
              y={l.y}
              fontFamily={LEG}
              fontWeight={700}
              fontSize={28}
              fill={l.color}
              textLength={l.w}
              lengthAdjust="spacingAndGlyphs"
              style={{ whiteSpace: 'pre' }}
            >
              <tspan>{l.main}</tspan>
              {l.sup && (
                <tspan dy={-9} fontSize={18}>
                  {l.sup}
                </tspan>
              )}
              {l.rest && (
                <tspan dy={9} fontSize={28}>
                  {l.rest}
                </tspan>
              )}
            </text>
          </g>
        ))}
      </svg>
    </div>
  );
}
